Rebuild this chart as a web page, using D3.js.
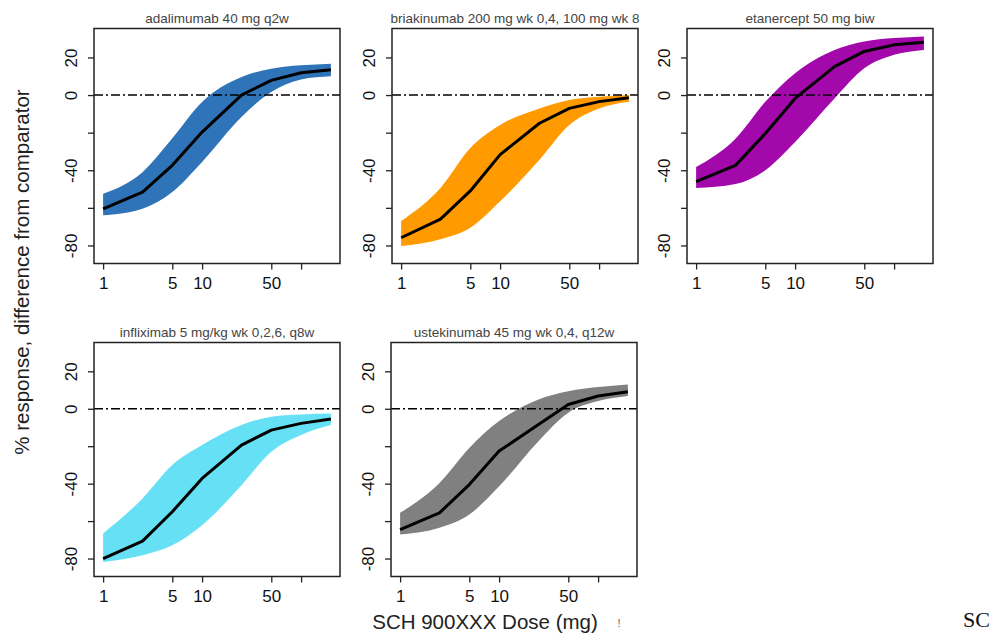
<!DOCTYPE html>
<html><head><meta charset="utf-8">
<script src="https://cdn.jsdelivr.net/npm/d3@7"></script>
<style>body{margin:0;background:#fff}svg{display:block}</style>
</head><body>
<svg id="c" width="1007" height="633"></svg>
<script>
const doses = [1, 2.5, 5, 10, 25, 50, 100, 200];
const titles = ["adalimumab 40 mg q2w", "briakinumab 200 mg wk 0,4, 100 mg wk 8", "etanercept 50 mg biw", "infliximab 5 mg/kg wk 0,2,6, q8w", "ustekinumab 45 mg wk 0,4, q12w"];
const colors = ["#2f74b8", "#ff9a00", "#a308aa", "#66e0f5", "#808080"];
const midAdalimumab = [-60.6, -51.6, -37.4, -19.7, 0, 7.8, 11.9, 13.5];
const loAdalimumab = [-64, -60.5, -51.6, -35.6, -11.7, 1.6, 8.3, 10];
const hiAdalimumab = [-52.5, -41, -23, -3.7, 9.6, 14, 15.8, 16.7];
const midBriakinumab = [-75.9, -66, -51, -31.7, -15, -7.1, -3.5, -1.4];
const loBriakinumab = [-80.3, -76.7, -70.6, -56.5, -34.4, -15.9, -7.1, -3.5];
const hiBriakinumab = [-67, -49.4, -28.2, -15.9, -7.1, -2.6, -0.9, 0];
const midEtanercept = [-46, -37.4, -20.5, -1.8, 15.1, 23.2, 26.7, 28.1];
const loEtanercept = [-49.5, -47.3, -40, -25, -1.8, 14.2, 21.4, 24];
const hiEtanercept = [-38.3, -23.2, -3.6, 11.6, 24, 28.5, 30.3, 31.2];
const midInfliximab = [-80, -70.7, -55, -37.2, -19.4, -11.4, -7.8, -5.5];
const loInfliximab = [-81.8, -78.2, -72.9, -62.2, -40.8, -23, -14, -8.7];
const hiInfliximab = [-66.6, -47.9, -30.1, -19.4, -8.7, -4.2, -3, -2.5];
const midUstekinumab = [-64.5, -55.6, -40.5, -22.6, -8.4, 2.3, 6.8, 9.1];
const loUstekinumab = [-67.2, -63.6, -56.5, -41.4, -17.3, -2.1, 4.1, 6.8];
const hiUstekinumab = [-55.6, -39.6, -20.9, -6.6, 5, 9.4, 11.6, 13];
const xTicks = [1, 5, 10, 50, 100];
const xTickLabels = ["1", "5", "10", "50", ""];
const yTicks = [20, 0, -20, -40, -60, -80];
const yTickLabels = ["20", "0", "", "-40", "", "-80"];
const yDomain = [-89.6, 35.4];
const xTitle = "SCH 900XXX Dose (mg)";
const yTitle = "% response, difference from comparator";

const series = [
  {mid: midAdalimumab, lo: loAdalimumab, hi: hiAdalimumab},
  {mid: midBriakinumab, lo: loBriakinumab, hi: hiBriakinumab},
  {mid: midEtanercept, lo: loEtanercept, hi: hiEtanercept},
  {mid: midInfliximab, lo: loInfliximab, hi: hiInfliximab},
  {mid: midUstekinumab, lo: loUstekinumab, hi: hiUstekinumab}
];
const boxes = [{x:94,y:28.5,h:235},{x:392,y:28.5,h:235},{x:687,y:28.5,h:235},{x:94,y:342.5,h:234},{x:391,y:342.5,h:234}];
const W = 246;
const svg = d3.select("#c");
const font = "'Liberation Sans', Arial, sans-serif";

const lmin = Math.log10(d3.min(doses)), lmax = Math.log10(d3.max(doses));
const pad = 0.04*(lmax-lmin);
const xDomain = [Math.pow(10, lmin-pad), Math.pow(10, lmax+pad)];

series.forEach((s, i) => {
  const b = boxes[i];
  const x = d3.scaleLog().domain(xDomain).range([b.x, b.x+W]);
  const y = d3.scaleLinear().domain(yDomain).range([b.y+b.h, b.y]);
  const g = svg.append("g");
  const rows = doses.map((d, k) => ({d, m: s.mid[k], l: s.lo[k], h: s.hi[k]}));
  g.append("path").datum(rows)
    .attr("d", d3.area().x(r=>x(r.d)).y0(r=>y(r.l)).y1(r=>y(r.h)).curve(d3.curveMonotoneX))
    .attr("fill", colors[i]);
  g.append("line").attr("x1", b.x).attr("x2", b.x+W).attr("y1", y(0)).attr("y2", y(0))
    .attr("stroke", "#000").attr("stroke-width", 1.4).attr("stroke-dasharray", "9,3,2,3");
  g.append("path").datum(rows)
    .attr("d", d3.line().x(r=>x(r.d)).y(r=>y(r.m)))
    .attr("fill", "none").attr("stroke", "#000").attr("stroke-width", 3).attr("stroke-linejoin","round");
  g.append("rect").attr("x", b.x).attr("y", b.y).attr("width", W).attr("height", b.h)
    .attr("fill", "none").attr("stroke", "#222").attr("stroke-width", 1.5);
  const xa = g.append("g").attr("transform", `translate(0,${b.y+b.h})`)
    .call(d3.axisBottom(x).tickValues(xTicks).tickSize(6).tickPadding(7)
      .tickFormat((d,k)=>xTickLabels[k]));
  xa.select(".domain").remove();
  xa.selectAll("line").attr("stroke","#222").attr("stroke-width",1.3);
  xa.selectAll("text").attr("font-family", font).attr("font-size", 17).attr("fill","#111");
  const ya = g.append("g").attr("transform", `translate(${b.x},0)`)
    .call(d3.axisLeft(y).tickValues(yTicks).tickSize(6).tickFormat((d,k)=>yTickLabels[k]));
  ya.select(".domain").remove();
  ya.selectAll("line").attr("stroke","#222").attr("stroke-width",1.3);
  ya.selectAll("text").attr("font-family", font).attr("font-size", 17).attr("fill","#111")
    .attr("x", null).attr("dy", null).attr("text-anchor","middle")
    .attr("transform", "translate(-17,0) rotate(-90)");
  g.append("text").attr("x", b.x+W/2).attr("y", b.y-6).attr("text-anchor","middle")
    .attr("font-family", font).attr("font-size", 13.5).attr("fill","#444").text(titles[i]);
});

svg.append("text").attr("x", 485).attr("y", 629).attr("text-anchor","middle")
  .attr("font-family", font).attr("font-size", 20.5).attr("fill","#222").text(xTitle);
svg.append("text").attr("x", 619).attr("y", 627).attr("text-anchor","middle")
  .attr("font-family", font).attr("font-size", 11).attr("fill","#666").text("!");
svg.append("text").attr("transform","translate(29,272) rotate(-90)").attr("text-anchor","middle")
  .attr("font-family", font).attr("font-size", 20.5).attr("fill","#222").text(yTitle);
svg.append("text").attr("x", 963).attr("y", 627)
  .attr("font-family", "'Liberation Serif', serif").attr("font-size", 22).attr("fill","#111").text("SC");
</script>
</body></html>
